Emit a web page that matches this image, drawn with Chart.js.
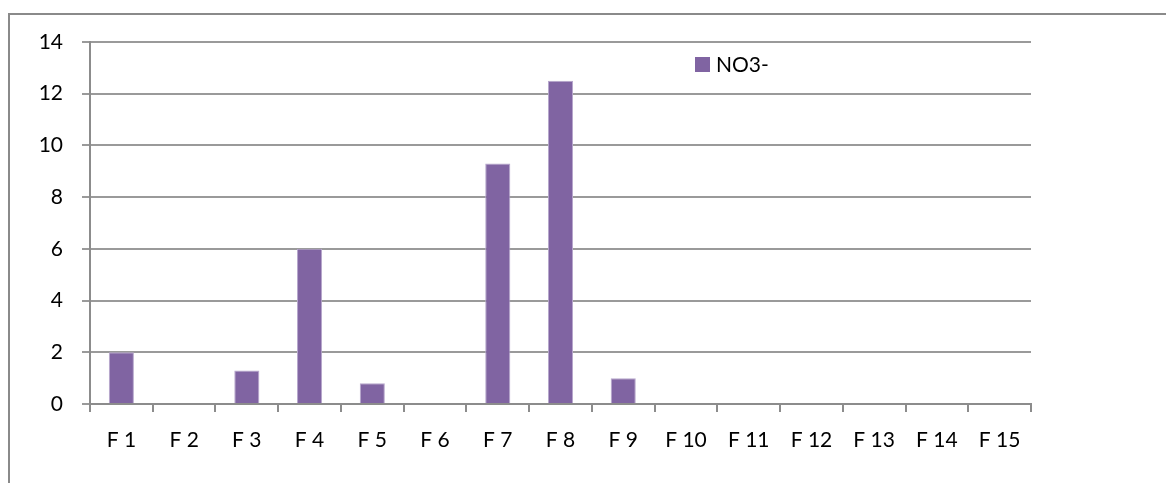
<!DOCTYPE html>
<html>
<head>
<meta charset="utf-8">
<script src="https://cdn.jsdelivr.net/npm/chart.js@4/dist/chart.umd.min.js"></script>
<style>
  html, body { margin: 0; padding: 0; background: #ffffff; overflow: hidden; }
  #wrap { position: relative; width: 1166px; height: 483px; }
  #frame { position: absolute; left: 8px; top: 13px; width: 1200px; height: 600px;
           border: 2px solid #8a8a8a; box-sizing: border-box; }
  #chart { position: absolute; left: 0; top: 0; }
</style>
</head>
<body>
<div id="wrap">
  <div id="frame"></div>
  <canvas id="chart" width="1166" height="483"></canvas>
</div>
<script>
// Sample points F 1 .. F 15
const categories = ['F 1', 'F 2', 'F 3', 'F 4', 'F 5', 'F 6', 'F 7', 'F 8',
                    'F 9', 'F 10', 'F 11', 'F 12', 'F 13', 'F 14', 'F 15'];
// Nitrate (NO3-) per point; null where nothing was measured
const no3Values = [2, null, 1.3, 6, 0.8, null, 9.3, 12.5, 1, null, null, null, null, null, null];
const seriesName = 'NO3-';
// Value axis ticks
const yTicks = [0, 2, 4, 6, 8, 10, 12, 14];

const FONT = 'Lato, "Noto Sans", sans-serif';
const BAR = '#8064A2';
const AXIS = '#8c8c8c';

// Simple legend box drawn inside the plot, top right
const legendBox = {
  id: 'legendBox',
  afterDraw(chart) {
    const ctx = chart.ctx;
    const ds = chart.data.datasets[0];
    ctx.save();
    ctx.fillStyle = ds.backgroundColor;
    ctx.fillRect(695, 57, 15, 15);
    ctx.fillStyle = '#000000';
    ctx.font = '21px ' + FONT;
    ctx.textBaseline = 'middle';
    ctx.textAlign = 'left';
    ctx.fillText(ds.label, 716, 65);
    ctx.restore();
  }
};

new Chart(document.getElementById('chart'), {
  type: 'bar',
  data: {
    labels: categories,
    datasets: [{
      label: seriesName,
      data: no3Values,
      backgroundColor: BAR,
      borderColor: '#b6a6cc',
      borderWidth: 1,
      categoryPercentage: 1.0,
      barPercentage: 0.4
    }]
  },
  options: {
    responsive: false,
    animation: false,
    layout: { padding: { top: 42, right: 135, left: 0, bottom: 0 } },
    plugins: { legend: { display: false }, tooltip: { enabled: false } },
    scales: {
      x: {
        offset: true,
        grid: { display: true, drawOnChartArea: false, drawTicks: true, tickLength: 8,
                color: AXIS, lineWidth: 2, offset: true },
        border: { display: true, color: AXIS, width: 2 },
        ticks: { color: '#000000', font: { family: FONT, size: 21 }, padding: 16,
                 maxRotation: 0, autoSkip: false },
        afterFit(scale) { scale.height = 79; }
      },
      y: {
        min: 0, max: 14,
        afterBuildTicks(scale) { scale.ticks = yTicks.map(v => ({ value: v })); },
        grid: { color: '#9a9a9a', lineWidth: 2, tickLength: 8, drawTicks: true },
        border: { display: true, color: AXIS, width: 2 },
        ticks: { color: '#000000', font: { family: FONT, size: 21 }, padding: 19 },
        afterFit(scale) { scale.width = 90; }
      }
    }
  },
  plugins: [legendBox]
});
</script>
</body>
</html>
